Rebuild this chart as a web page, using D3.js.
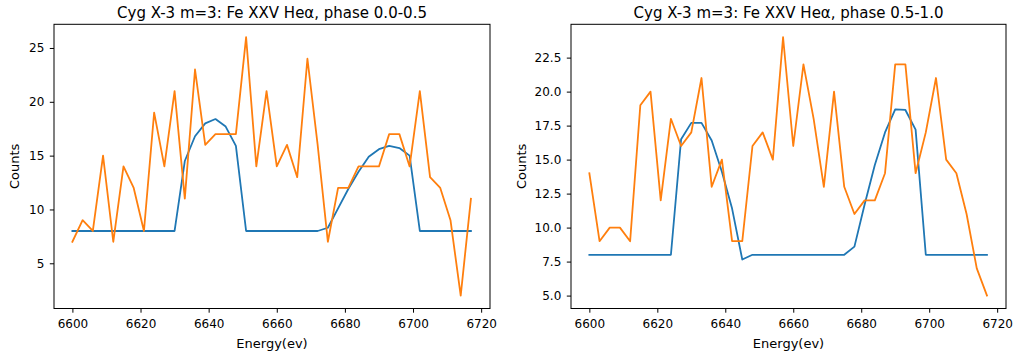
<!DOCTYPE html>
<html>
<head>
<meta charset="utf-8">
<script src="https://cdn.jsdelivr.net/npm/d3@7"></script>
<style>
  html, body { margin: 0; padding: 0; background: #fff; }
  svg { display: block; font-family: "DejaVu Sans", sans-serif; }
</style>
</head>
<body>
<svg id="chart" width="1014" height="358"></svg>
<script>
// ---- data ----
const energies = [6600,6603,6606,6609,6612,6615,6618,6621,6624,6627,
                  6630,6633,6636,6639,6642,6645,6648,6651,6654,6657,
                  6660,6663,6666,6669,6672,6675,6678,6681,6684,6687,
                  6690,6693,6696,6699,6702,6705,6708,6711,6714,6717];

// phase 0.0-0.5
const modelA = [8,8,8,8,8,8,8,8,8,8,
                8,14.5,16.8,18.0,18.4,17.7,15.9,8,8,8,
                8,8,8,8,8,8.3,10.1,11.9,13.5,14.9,
                15.6,15.9,15.7,15.0,8,8,8,8,8,8];
const countsA = [7,9,8,15,7,14,12,8,19,14,
                 21,11,23,16,17,17,17,26,14,21,
                 14,16,13,24,16,7,12,12,14,14,
                 14,17,17,14,21,13,12,9,2,11];

// phase 0.5-1.0
const modelB = [8,8,8,8,8,8,8,8,8,16.5,
                17.7,17.7,16.4,14.1,11.4,7.65,8,8,8,8,
                8,8,8,8,8,8,8.6,11.7,14.6,17.0,
                18.7,18.65,17.2,8,8,8,8,8,8,8];
const countsB = [14,9,10,10,9,19,20,12,18,16,
                 17,21,13,15,9,9,16,17,15,24,
                 16,22,18,13,20,13,11,12,12,14,
                 22,22,14,17,21,15,14,11,7,5];

const xTicks = [6600,6620,6640,6660,6680,6700,6720];
const yTicksA = [5,10,15,20,25];
const yTicksB = [5,7.5,10,12.5,15,17.5,20,22.5];

const titles = ["Cyg X-3 m=3: Fe XXV He\u03b1, phase 0.0-0.5",
                "Cyg X-3 m=3: Fe XXV He\u03b1, phase 0.5-1.0"];

// ---- drawing ----
(function(){
const svg = d3.select("#chart");
svg.append("rect").attr("width",1014).attr("height",358).attr("fill","#fff");

const panels = [
  {x0:54, x1:490, model:modelA, counts:countsA, yDom:[0.8,27.2], yTicks:yTicksA, fmt:d3.format("d"), title:titles[0], ylabX:19},
  {x0:571, x1:1006, model:modelB, counts:countsB, yDom:[4.05,24.95], yTicks:yTicksB, fmt:d3.format(".1f"), title:titles[1], ylabX:526}
];
const yTop = 24.3, yBot = 308.5;

panels.forEach((p,pi) => {
  const x = d3.scaleLinear().domain([6594.6, 6722.6]).range([p.x0, p.x1]);
  const y = d3.scaleLinear().domain(p.yDom).range([yBot, yTop]);
  const g = svg.append("g");

  const clipId = "clip"+pi;
  svg.append("clipPath").attr("id",clipId).append("rect")
     .attr("x",p.x0).attr("y",yTop).attr("width",p.x1-p.x0).attr("height",yBot-yTop);

  const line = d3.line().x((d,i)=>x(energies[i])).y(d=>y(d));
  g.append("path").datum(p.model).attr("d",line).attr("fill","none")
    .attr("stroke","#1f77b4").attr("stroke-width",1.8).attr("stroke-linejoin","round")
    .attr("stroke-linecap","square").attr("clip-path",`url(#${clipId})`);
  g.append("path").datum(p.counts).attr("d",line).attr("fill","none")
    .attr("stroke","#ff7f0e").attr("stroke-width",1.8).attr("stroke-linejoin","round")
    .attr("stroke-linecap","square").attr("clip-path",`url(#${clipId})`);

  const xa = g.append("g").attr("transform",`translate(0,${yBot})`)
    .call(d3.axisBottom(x).tickValues(xTicks).tickSize(4.2).tickPadding(7).tickFormat(d3.format("d")));
  const ya = g.append("g").attr("transform",`translate(${p.x0},0)`)
    .call(d3.axisLeft(y).tickValues(p.yTicks).tickSize(4.2).tickPadding(5.5).tickFormat(p.fmt));
  [xa,ya].forEach(a => {
    a.select(".domain").remove();
    a.selectAll("line").attr("stroke","#000").attr("stroke-width",1);
    a.selectAll("text").attr("fill","#000").style("font-size","12px").style("font-family","DejaVu Sans");
  });

  g.append("rect").attr("x",p.x0).attr("y",yTop).attr("width",p.x1-p.x0).attr("height",yBot-yTop)
    .attr("fill","none").attr("stroke","#000").attr("stroke-width",1);

  g.append("text").attr("x",(p.x0+p.x1)/2).attr("y",18).attr("text-anchor","middle")
    .style("font-size","15px").attr("fill","#000").text(p.title);
  g.append("text").attr("x",(p.x0+p.x1)/2).attr("y",347.5).attr("text-anchor","middle")
    .style("font-size","13px").attr("fill","#000").text("Energy(ev)");
  g.append("text").attr("transform",`translate(${p.ylabX},${(yTop+yBot)/2}) rotate(-90)`)
    .attr("text-anchor","middle").style("font-size","13px").attr("fill","#000").text("Counts");
});
})();
</script>
</body>
</html>
